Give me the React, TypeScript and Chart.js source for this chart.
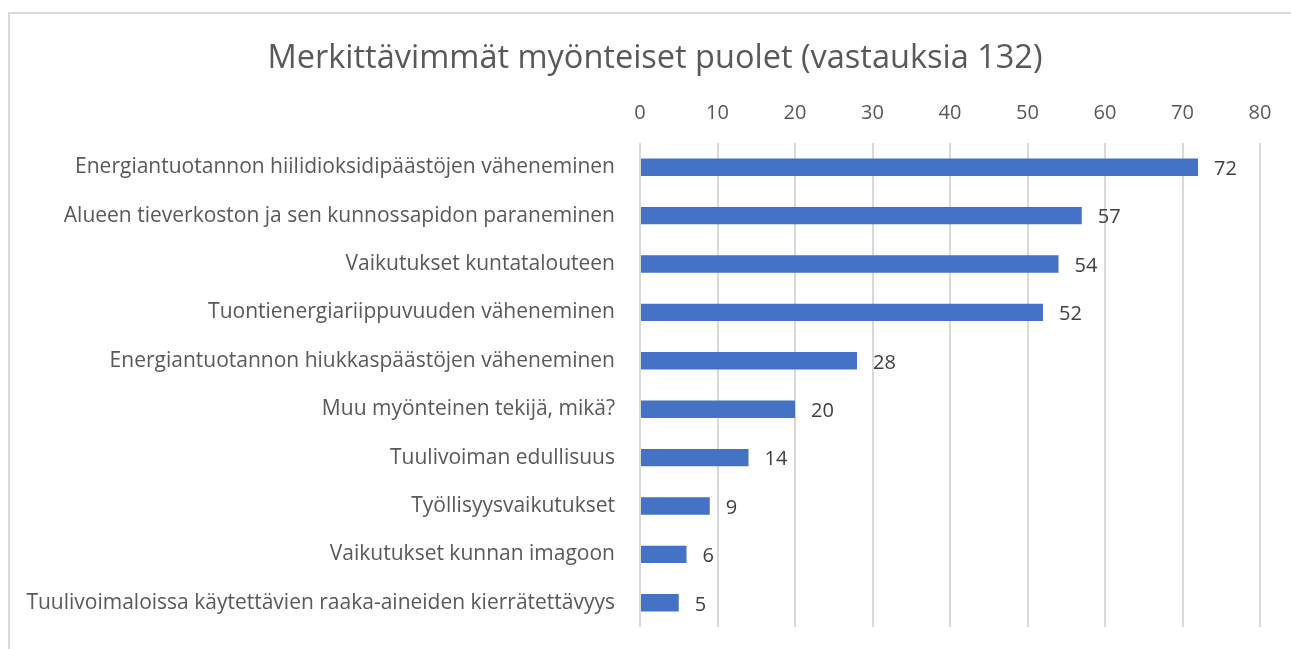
import React, { useEffect, useRef } from "react";
import { Chart, registerables } from "chart.js";

Chart.register(...registerables);

const categories = [
  "Energiantuotannon hiilidioksidipäästöjen väheneminen",
  "Alueen tieverkoston ja sen kunnossapidon paraneminen",
  "Vaikutukset kuntatalouteen",
  "Tuontienergiariippuvuuden väheneminen",
  "Energiantuotannon hiukkaspäästöjen väheneminen",
  "Muu myönteinen tekijä, mikä?",
  "Tuulivoiman edullisuus",
  "Työllisyysvaikutukset",
  "Vaikutukset kunnan imagoon",
  "Tuulivoimaloissa käytettävien raaka-aineiden kierrätettävyys",
];
const values = [72, 57, 54, 52, 28, 20, 14, 9, 6, 5];
const titleText = "Merkittävimmät myönteiset puolet (vastauksia 132)";
const xMin = 0;
const xMax = 80;
const xStep = 10;

const FONT = "'Open Sans'";

const valueLabels = {
  id: "valueLabels",
  afterDatasetsDraw(chart: any) {
    const ctx = chart.ctx;
    const meta = chart.getDatasetMeta(0);
    ctx.save();
    ctx.font = `20px ${FONT}`;
    ctx.fillStyle = "#404040";
    ctx.textAlign = "left";
    ctx.textBaseline = "middle";
    meta.data.forEach((bar: any, i: number) => {
      ctx.fillText(String(values[i]), bar.x + 16, bar.y + 2);
    });
    ctx.restore();
  },
};

const chartTitle = {
  id: "chartTitle",
  afterDraw(chart: any) {
    const ctx = chart.ctx;
    ctx.save();
    ctx.font = `32.5px ${FONT}`;
    ctx.fillStyle = "#595959";
    ctx.textAlign = "center";
    ctx.textBaseline = "middle";
    ctx.fillText(titleText, 655, 59);
    ctx.restore();
  },
};

export default function App() {
  const ref = useRef<HTMLCanvasElement>(null);
  useEffect(() => {
    if (!ref.current) return;
    const chart = new Chart(ref.current, {
      type: "bar",
      data: {
        labels: categories,
        datasets: [
          {
            data: values,
            backgroundColor: "#4472C4",
            barPercentage: 0.36,
            categoryPercentage: 1,
          },
        ],
      },
      options: {
        indexAxis: "y",
        animation: false,
        responsive: false,
        maintainAspectRatio: false,
        layout: { padding: { left: 0, right: 31, top: 76, bottom: 22 } },
        plugins: {
          legend: { display: false },
          tooltip: { enabled: false },
          title: { display: false },
        },
        scales: {
          x: {
            position: "top",
            min: xMin,
            max: xMax,
            ticks: {
              stepSize: xStep,
              color: "#595959",
              font: { family: FONT, size: 20 },
              padding: 18,
            },
            grid: { color: "#d9d9d9", lineWidth: 2, drawTicks: false },
            border: { display: false },
            afterFit: (s: any) => {
              s.height = 67;
              s.paddingLeft = 0;
              s.paddingRight = 0;
            },
          },
          y: {
            ticks: {
              color: "#595959",
              font: { family: FONT, size: 21 },
              padding: 25,
            },
            grid: { display: false, drawTicks: false },
            border: { display: false },
            afterFit: (s: any) => {
              s.width = 640;
              s.paddingTop = 0;
              s.paddingBottom = 0;
            },
          },
        },
      },
      plugins: [valueLabels, chartTitle],
    });
    return () => chart.destroy();
  }, []);
  return (
    <div style={{ position: "fixed", left: 0, top: 0, width: 1291, height: 649, overflow: "hidden", background: "#fff" }}>
      <div
        style={{
          position: "absolute",
          left: 8,
          top: 12,
          width: 1320,
          height: 700,
          border: "2px solid #d9d9d9",
          boxSizing: "border-box",
        }}
      />
      <canvas ref={ref} width={1291} height={649} style={{ position: "absolute", left: 0, top: 0 }} />
    </div>
  );
}
